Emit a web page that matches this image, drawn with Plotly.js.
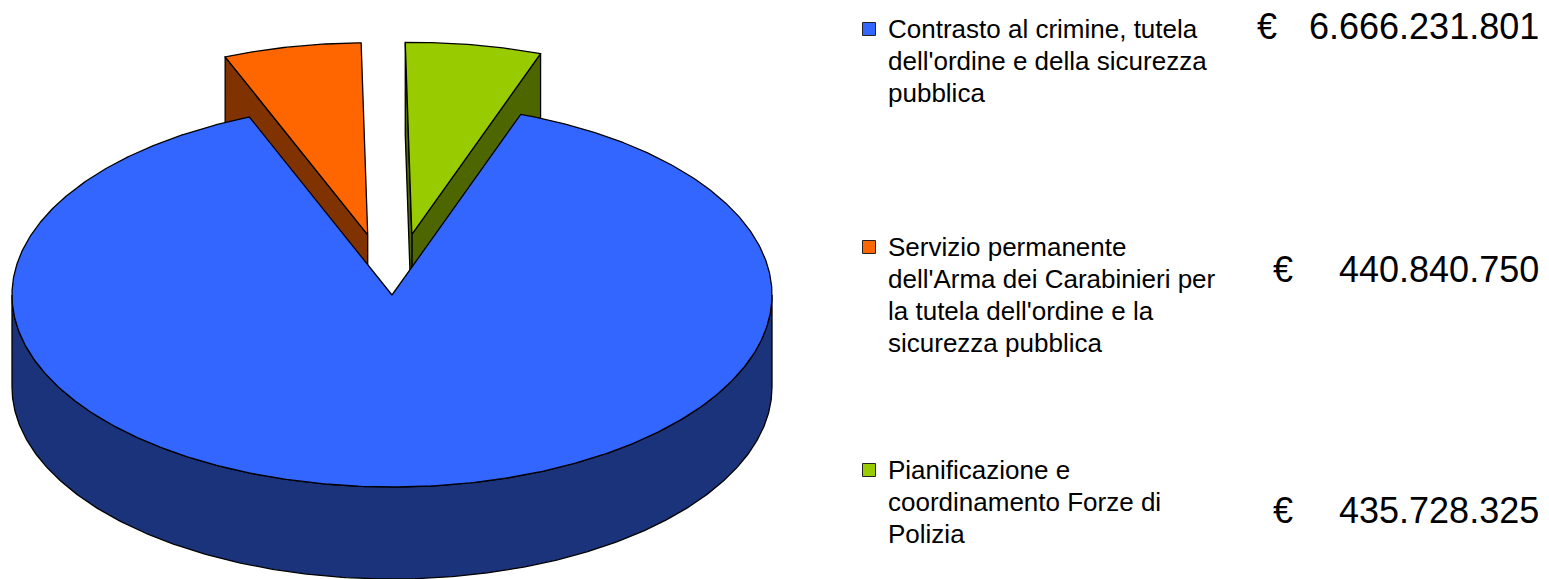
<!DOCTYPE html>
<html>
<head>
<meta charset="utf-8">
<script src="https://cdn.plot.ly/plotly-3.0.1.min.js"></script>
<style>html,body{margin:0;padding:0;background:#fff;}#chart{width:1549px;height:579px;}</style>
</head>
<body>
<div id="chart"></div>
<script>
// ---- DATA ----
const categories = [
  "Contrasto al crimine, tutela dell'ordine e della sicurezza pubblica",
  "Servizio permanente dell'Arma dei Carabinieri per la tutela dell'ordine e la sicurezza pubblica",
  "Pianificazione e coordinamento Forze di Polizia"
];
const legendLines = [
  ["Contrasto al crimine, tutela", "dell'ordine e della sicurezza", "pubblica"],
  ["Servizio permanente", "dell'Arma dei Carabinieri per", "la tutela dell'ordine e la", "sicurezza pubblica"],
  ["Pianificazione e", "coordinamento Forze di", "Polizia"]
];
const values = [6666231801, 440840750, 435728325];
const currency = "€";

// ---- STYLE / LAYOUT ----
const topColors = ["#3366FF", "#FF6600", "#99CC00"];
const sideColors = ["#1A337A", "#803300", "#4D6600"];
const pullAmt = [0, 0.32, 0.32];
const W = 1549, H = 579;
const cx = 392, cy = 295, rx = 380, ry = 192, depth = 92, startAngle = 70.2;
const legendX = 869, legendTextX = 886, legendY = [29, 247, 470], lineGap = 32;
const valueRightX = 1541, valueY = [26, 269, 510], euroX = [1255, 1271, 1271];

function fmtIt(v) {
  return String(v).replace(/\B(?=(\d{3})+(?!\d))/g, ".");
}

const total = values.reduce((a, b) => a + b, 0);
const slices = [];
let cum = 0;
values.forEach((v, i) => {
  const hi = startAngle - cum / total * 360;
  const lo = hi - v / total * 360;
  cum += v;
  const mid = (hi + lo) / 2 * Math.PI / 180;
  slices.push({
    i, lo, hi, mid,
    ox: pullAmt[i] * rx * Math.cos(mid),
    oy: -pullAmt[i] * ry * Math.sin(mid)
  });
});

function pt(a, ox, oy, z) {
  const r = a * Math.PI / 180;
  return [cx + ox + rx * Math.cos(r), cy + oy - ry * Math.sin(r) + z];
}
function arc(a0, a1, ox, oy, z) {
  const n = Math.max(2, Math.ceil(Math.abs(a1 - a0) / 0.5));
  const out = [];
  for (let k = 0; k <= n; k++) out.push(pt(a0 + (a1 - a0) * k / n, ox, oy, z));
  return out;
}
function poly(points, fill) {
  const xs = points.map(p => p[0]), ys = points.map(p => p[1]);
  xs.push(xs[0]); ys.push(ys[0]);
  return {
    type: "scatter", mode: "lines", x: xs, y: ys, fill: "toself",
    fillcolor: fill, line: { color: "#000000", width: 1.3 },
    hoverinfo: "skip", showlegend: false
  };
}

const traces = [];
const order = slices.slice().sort((a, b) => Math.sin(b.mid) - Math.sin(a.mid));
order.forEach(s => {
  const side = sideColors[s.i], top = topColors[s.i];
  const apexT = [cx + s.ox, cy + s.oy], apexB = [cx + s.ox, cy + s.oy + depth];
  const wallAt = a => poly([apexT, pt(a, s.ox, s.oy, 0), pt(a, s.ox, s.oy, depth), apexB], side);
  if (Math.cos(s.lo * Math.PI / 180) > 0) traces.push(wallAt(s.lo));
  if (Math.cos(s.hi * Math.PI / 180) < 0) traces.push(wallAt(s.hi));
  for (let k = -2; k <= 1; k++) {
    const a0 = Math.max(s.lo, 180 + 360 * k), a1 = Math.min(s.hi, 360 + 360 * k);
    if (a1 > a0) {
      const topArc = arc(a0, a1, s.ox, s.oy, 0);
      const botArc = arc(a1, a0, s.ox, s.oy, depth);
      traces.push(poly(topArc.concat(botArc), side));
    }
  }
  traces.push(poly([apexT].concat(arc(s.lo, s.hi, s.ox, s.oy, 0)), top));
});

traces.push({
  type: "scatter", mode: "markers",
  x: legendY.map(() => legendX), y: legendY,
  marker: { symbol: "square", size: 13, color: topColors, line: { color: "#222222", width: 1 } },
  hoverinfo: "skip", showlegend: false
});

const font = "Liberation Sans, Arial, sans-serif";
const annotations = [];
legendLines.forEach((lines, i) => {
  lines.forEach((t, j) => {
    annotations.push({
      xref: "x", yref: "y", x: legendTextX, y: legendY[i] + j * lineGap,
      xanchor: "left", yanchor: "middle", showarrow: false, text: t,
      font: { family: font, size: 26, color: "#000000" }
    });
  });
});
values.forEach((v, i) => {
  annotations.push({
    xref: "x", yref: "y", x: euroX[i], y: valueY[i],
    xanchor: "left", yanchor: "middle", showarrow: false,
    text: currency, font: { family: font, size: 36, color: "#000000" }
  });
  annotations.push({
    xref: "x", yref: "y", x: valueRightX, y: valueY[i],
    xanchor: "right", yanchor: "middle", showarrow: false,
    text: fmtIt(v), font: { family: font, size: 36, color: "#000000" }
  });
});

const layout = {
  width: W, height: H,
  margin: { l: 0, r: 0, t: 0, b: 0, pad: 0 },
  paper_bgcolor: "#ffffff", plot_bgcolor: "#ffffff",
  xaxis: { range: [0, W], visible: false, fixedrange: true },
  yaxis: { range: [H, 0], visible: false, fixedrange: true },
  showlegend: false,
  annotations
};
Plotly.newPlot("chart", traces, layout, { displayModeBar: false, staticPlot: true });
</script>
</body>
</html>
